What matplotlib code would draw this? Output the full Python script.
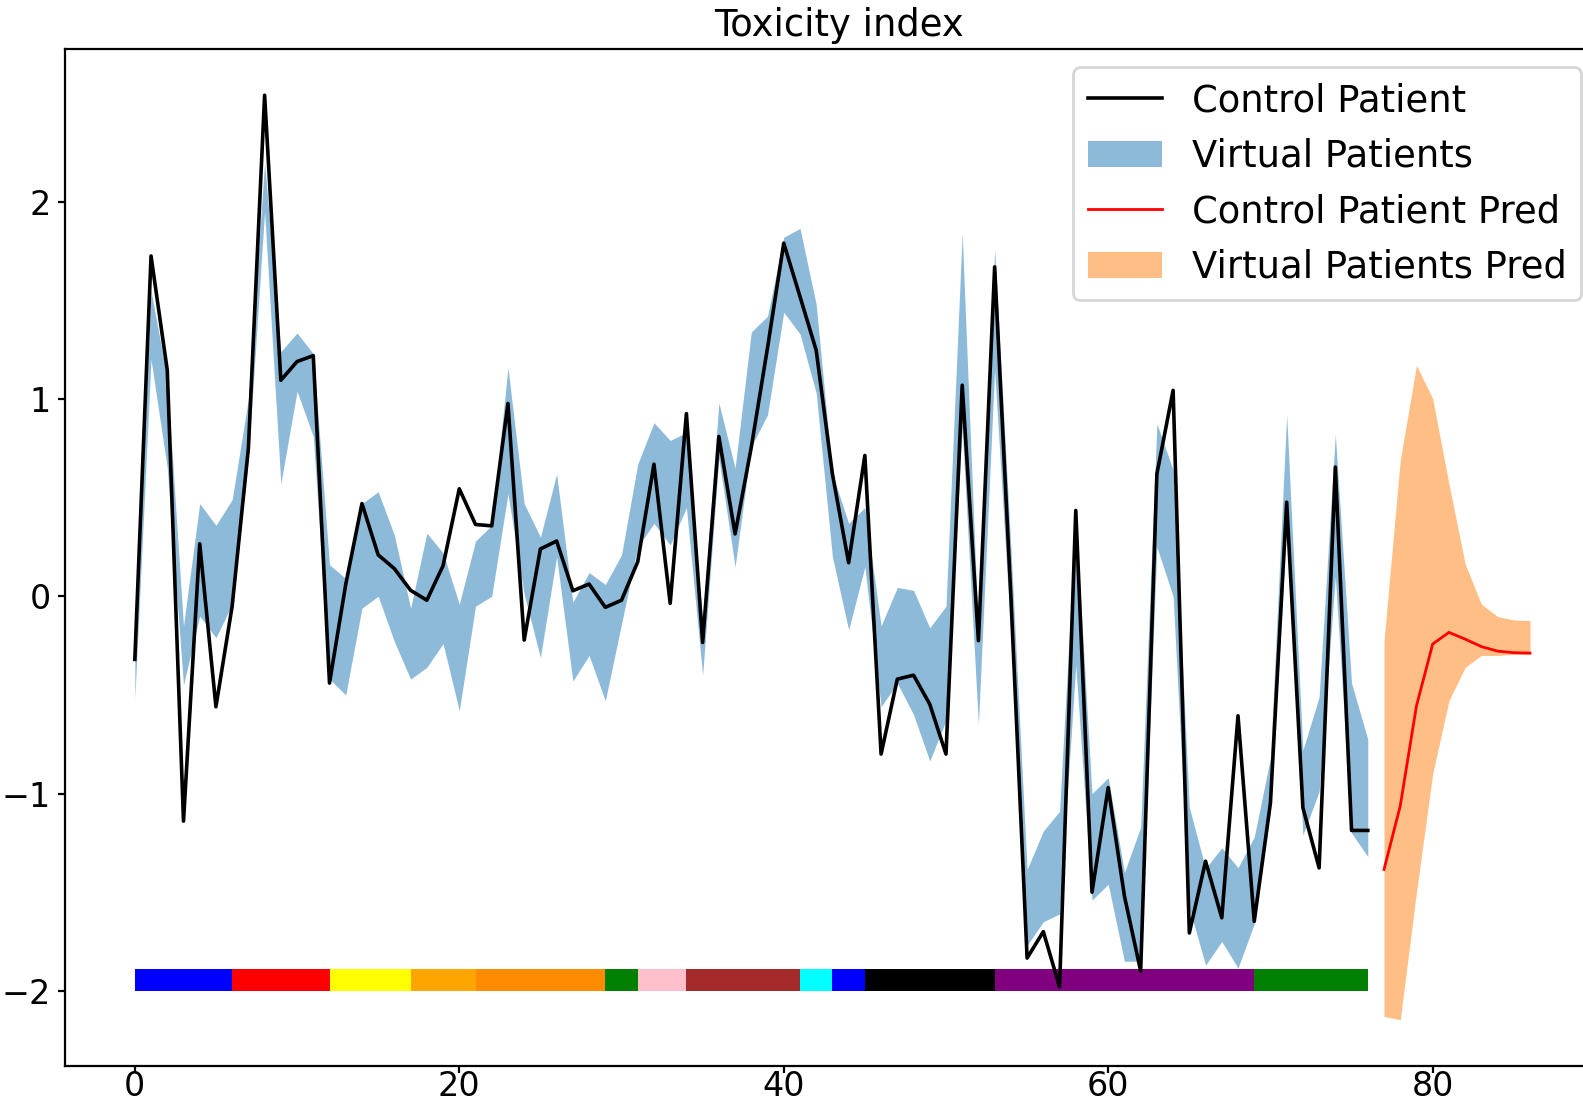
import numpy as np
import matplotlib
matplotlib.use("Agg")
import matplotlib.pyplot as plt

# ---- data ----
control = [-0.32, 1.725, 1.146, -1.14, 0.266, -0.56, -0.05, 0.75, 2.54, 1.095,
           1.19, 1.22, -0.44, 0.06, 0.47, 0.21, 0.14, 0.03, -0.02, 0.155,
           0.545, 0.364, 0.357, 0.977, -0.222, 0.24, 0.28, 0.028, 0.062, -0.056,
           -0.02, 0.175, 0.67, -0.036, 0.926, -0.234, 0.81, 0.316, 0.756, 1.26,
           1.79, 1.52, 1.247, 0.62, 0.17, 0.714, -0.80, -0.42, -0.40, -0.547,
           -0.80, 1.07, -0.225, 1.67, 0.0, -1.834, -1.70, -1.98, 0.435, -1.50,
           -0.97, -1.52, -1.90, 0.62, 1.044, -1.707, -1.343, -1.63, -0.606, -1.648,
           -1.047, 0.477, -1.072, -1.377, 0.655, -1.187, -1.187]

virtual_lower = [-0.52, 1.20, 0.65, -0.45, -0.10, -0.21, -0.04, 0.70, 1.95, 0.57,
                 1.04, 0.81, -0.42, -0.50, -0.06, 0.00, -0.23, -0.42, -0.36, -0.24,
                 -0.58, -0.05, 0.00, 0.52, 0.01, -0.31, 0.20, -0.43, -0.30, -0.53,
                 -0.14, 0.25, 0.37, 0.26, 0.45, -0.40, 0.70, 0.15, 0.76, 0.92,
                 1.44, 1.33, 1.03, 0.20, -0.17, 0.15, -0.56, -0.44, -0.60, -0.835,
                 -0.63, 0.85, -0.65, 1.15, -0.20, -1.77, -1.65, -1.61, -0.35, -1.54,
                 -1.46, -1.85, -1.85, 0.25, 0.00, -1.58, -1.87, -1.75, -1.885, -1.66,
                 -1.08, 0.35, -1.21, -0.99, 0.10, -1.20, -1.32]

virtual_upper = [-0.30, 1.55, 1.10, -0.15, 0.47, 0.36, 0.49, 1.00, 2.20, 1.24,
                 1.335, 1.23, 0.16, 0.09, 0.47, 0.53, 0.31, -0.06, 0.32, 0.22,
                 -0.04, 0.28, 0.36, 1.16, 0.47, 0.30, 0.62, -0.03, 0.12, 0.06,
                 0.21, 0.67, 0.88, 0.79, 0.83, -0.12, 0.98, 0.65, 1.34, 1.42,
                 1.82, 1.865, 1.48, 0.62, 0.37, 0.45, -0.15, 0.045, 0.03, -0.16,
                 -0.05, 1.84, -0.20, 1.755, 0.25, -1.385, -1.19, -1.09, 0.40, -1.00,
                 -0.92, -1.40, -1.17, 0.875, 0.64, -1.07, -1.38, -1.275, -1.376, -1.22,
                 -0.82, 0.92, -0.78, -0.51, 0.82, -0.44, -0.725]

pred_line = [-1.385, -1.063, -0.556, -0.242, -0.183, -0.217, -0.255, -0.278, -0.286, -0.288]
pred_lower = [-2.13, -2.147, -1.50, -0.90, -0.53, -0.36, -0.30, -0.30, -0.295, -0.295]
pred_upper = [-0.225, 0.689, 1.171, 1.002, 0.57, 0.164, -0.04, -0.103, -0.12, -0.123]

# phase bar segments: start, end, colour
seg_starts = [0, 6, 12, 17, 21, 29, 31, 34, 41, 43, 45, 53, 69]
seg_ends = [6, 12, 17, 21, 29, 31, 34, 41, 43, 45, 53, 69, 76]
seg_colors = ["blue", "red", "yellow", "orange", "darkorange", "green", "pink",
              "brown", "cyan", "blue", "black", "purple", "green"]
bar_bottom = -2.0
bar_height = 0.11

title = "Toxicity index"
xticks = [0, 20, 40, 60, 80]
yticks = [-2, -1, 0, 1, 2]

# ---- plot ----
fig = plt.figure(figsize=(15.83 / 2, 11.04 / 2), dpi=200)
ax = fig.add_axes([0.0411, 0.0344, 0.9695, 0.9212])

x = np.arange(len(control))
xp = np.arange(len(control), len(control) + len(pred_line))

ax.broken_barh([(s, e - s) for s, e in zip(seg_starts, seg_ends)],
               (bar_bottom, bar_height), facecolors=seg_colors, zorder=1)

ax.plot(x, control, color="black", lw=1.3, label="Control Patient", zorder=3)
ax.fill_between(x, virtual_lower, virtual_upper, color="C0", alpha=0.5,
                linewidth=0, label="Virtual Patients", zorder=2)
ax.plot(xp, pred_line, color="red", lw=1.0, label="Control Patient Pred", zorder=3)
ax.fill_between(xp, pred_lower, pred_upper, color="C1", alpha=0.5,
                linewidth=0, label="Virtual Patients Pred", zorder=2)

ax.set_xticks(xticks)
ax.set_yticks(yticks)
ax.tick_params(labelsize=12, length=2.6)
ax.tick_params(axis="x", pad=-1.2)
ax.tick_params(axis="y", pad=2.5)
ax.set_title(title, fontsize=13.3, pad=4.6, x=0.504)
ax.legend(loc="upper right", fontsize=13.3)

fig.savefig("out.png", dpi=200)
